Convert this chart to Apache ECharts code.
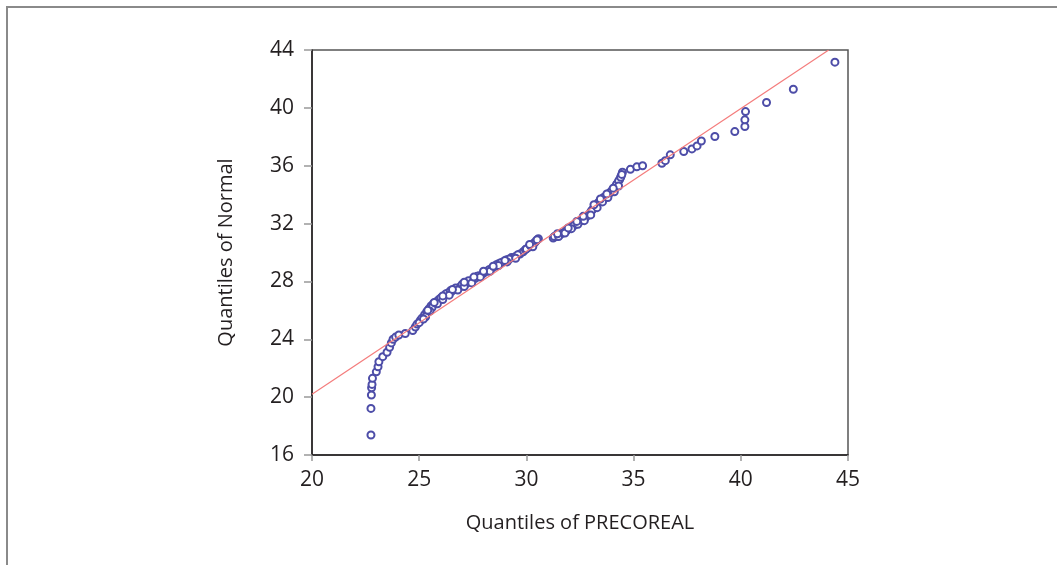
<!DOCTYPE html>
<html>
<head>
<meta charset="utf-8">
<script src="https://cdn.jsdelivr.net/npm/echarts@6/dist/echarts.min.js"></script>
<style>
  html, body { margin: 0; padding: 0; background: #fff; }
  #qq { width: 1057px; height: 565px; }
</style>
</head>
<body>
<div id="qq"></div>
<script type="text/javascript">
	// quantiles of PRECOREAL (x) vs quantiles of Normal (y)
	var precoreal = [
		22.75, 22.75, 22.77, 22.78, 22.80, 22.82, 23.00, 23.08, 23.12, 23.30,
		23.50, 23.62, 23.70, 23.78, 23.90, 24.05, 24.35, 24.70, 24.82, 24.90,
		25.05, 25.12, 25.25, 25.35, 25.45, 25.55, 25.65, 25.80, 25.92, 26.05,
		26.20, 26.35, 26.50, 26.62, 26.75, 26.90, 27.05, 27.20, 27.37, 27.50,
		27.62, 27.80, 27.98, 28.15, 28.38, 28.55, 28.70, 28.90, 29.08, 29.30,
		29.47, 29.70, 29.85, 29.95, 30.10, 30.25, 30.33, 30.45, 30.56,
		31.25, 31.40, 31.55, 31.70, 31.85, 32.00, 32.15, 32.30, 32.45, 32.60,
		32.75, 32.90, 33.00, 33.10, 33.20, 33.35, 33.50, 33.68, 33.85, 34.00,
		34.15, 34.25, 34.35, 34.42, 34.48, 34.85, 35.15, 35.42, 36.32, 36.48,
		36.71, 37.34, 37.72, 37.96, 38.16, 38.79, 39.72, 40.19, 40.19, 40.22,
		41.20, 42.45, 44.39,
		25.00, 25.30, 25.60, 25.75, 26.00, 26.25, 26.45, 26.70, 27.00, 27.30,
		27.70, 28.05, 28.25, 28.60, 28.80, 29.20, 29.60, 30.00, 30.20, 30.40,
		30.50, 31.30, 31.60, 31.90, 32.20, 32.50, 32.80, 33.05, 33.28, 33.60,
		33.90, 34.20, 34.30, 34.40, 34.45,
		25.20, 25.50, 25.85, 26.10, 26.40, 26.80, 27.10, 27.45, 27.85, 28.30,
		28.70, 29.10, 29.50, 30.30, 31.50, 31.80, 32.10, 32.40, 32.70, 33.00,
		33.30, 33.55, 33.80, 34.10, 34.30,
		25.40, 25.70, 26.10, 26.55, 27.10, 27.55, 28.00, 28.45, 29.00, 30.15,
		31.45, 31.95, 32.35, 32.65, 33.15, 33.45, 33.75, 34.05
	];
	var normalQ = [
		17.38, 19.22, 20.15, 20.65, 20.88, 21.30, 21.75, 22.10, 22.45, 22.80,
		23.10, 23.45, 23.75, 24.00, 24.15, 24.30, 24.40, 24.60, 24.85, 25.05,
		25.30, 25.45, 25.70, 25.90, 26.10, 26.30, 26.45, 26.60, 26.75, 26.90,
		27.05, 27.20, 27.30, 27.42, 27.50, 27.62, 27.75, 27.85, 27.98, 28.10,
		28.22, 28.40, 28.55, 28.70, 28.90, 29.05, 29.22, 29.35, 29.50, 29.65,
		29.70, 29.90, 30.05, 30.20, 30.35, 30.50, 30.62, 30.80, 30.95,
		31.00, 31.10, 31.20, 31.35, 31.50, 31.65, 31.80, 31.95, 32.10, 32.25,
		32.40, 32.60, 32.80, 33.00, 33.20, 33.45, 33.65, 33.85, 34.05, 34.30,
		34.55, 34.80, 35.05, 35.30, 35.55, 35.75, 35.92, 36.00, 36.17, 36.35,
		36.75, 36.98, 37.16, 37.37, 37.71, 38.02, 38.36, 38.71, 39.17, 39.74,
		40.37, 41.29, 43.16,
		25.15, 25.55, 26.20, 26.50, 26.85, 27.15, 27.35, 27.55, 27.80, 28.05,
		28.35, 28.65, 28.80, 29.15, 29.30, 29.55, 29.85, 30.25, 30.45, 30.70,
		30.88, 31.10, 31.30, 31.55, 31.85, 32.20, 32.50, 32.90, 33.30, 33.80,
		34.15, 34.70, 34.95, 35.20, 35.40,
		25.40, 25.95, 26.45, 26.75, 27.05, 27.40, 27.65, 27.90, 28.30, 28.70,
		29.10, 29.35, 29.60, 30.40, 31.10, 31.35, 31.65, 31.95, 32.20, 32.60,
		33.10, 33.50, 33.80, 34.20, 34.60,
		26.00, 26.55, 27.00, 27.45, 27.95, 28.30, 28.70, 29.05, 29.45, 30.55,
		31.30, 31.70, 32.15, 32.50, 33.30, 33.70, 34.05, 34.45
	];
	// reference line end points
	var refX = [20, 44.1];
	var refY = [20.2, 44];
	var xTicks = [20, 25, 30, 35, 40, 45];
	var yTicks = [16, 20, 24, 28, 32, 36, 40, 44];

	var points = [];
	for (var i = 0; i < precoreal.length; i++) {
		points.push([precoreal[i], normalQ[i]]);
	}
	var refLine = [];
	for (var j = 0; j < refX.length; j++) {
		refLine.push([refX[j], refY[j]]);
	}

	var fontName = "'Liberation Sans Narrow', 'Open Sans', sans-serif";
	var option = {
		animation : false,
		backgroundColor : '#fff',
		graphic : [ {
			type : 'polyline',
			silent : true,
			shape : { points : [ [7, 565], [7, 7], [1057, 7] ] },
			style : { stroke : '#8a8a8a', lineWidth : 2, fill : null }
		} ],
		grid : {
			left : 312,
			top : 50,
			right : 209,
			bottom : 110,
			show : true,
			borderColor : '#555',
			borderWidth : 1.5,
			backgroundColor : '#fff'
		},
		xAxis : {
			type : 'value',
			min : xTicks[0],
			max : xTicks[xTicks.length - 1],
			interval : 5,
			name : 'Quantiles of PRECOREAL',
			nameLocation : 'middle',
			nameGap : 58,
			nameTextStyle : { fontFamily : fontName, fontSize : 20, color : '#231f20' },
			axisLine : { show : true, lineStyle : { color : '#231f20', width : 1.5 } },
			axisTick : { show : true, inside : false, length : 6, lineStyle : { color : '#999', width : 1.5 } },
			axisLabel : { fontFamily : fontName, fontSize : 21, color : '#231f20', margin : 15 },
			splitLine : { show : false }
		},
		yAxis : {
			type : 'value',
			min : yTicks[0],
			max : yTicks[yTicks.length - 1],
			interval : 4,
			name : 'Quantiles of Normal',
			nameLocation : 'middle',
			nameGap : 76,
			nameTextStyle : { fontFamily : fontName, fontSize : 20, color : '#231f20' },
			axisLine : { show : true, lineStyle : { color : '#231f20', width : 1.5 } },
			axisTick : { show : true, inside : false, length : 8, lineStyle : { color : '#999', width : 1.5 } },
			axisLabel : { fontFamily : fontName, fontSize : 21, color : '#231f20', margin : 18 },
			splitLine : { show : false }
		},
		series : [ {
			name : 'ref',
			type : 'line',
			data : refLine,
			symbol : 'none',
			clip : true,
			lineStyle : { color : '#f47c7c', width : 1.2 },
			z : 3
		}, {
			name : 'PRECOREAL',
			type : 'scatter',
			data : points,
			symbol : 'emptyCircle',
			symbolSize : 7,
			itemStyle : { color : '#4d4da8', borderColor : '#4d4da8', borderWidth : 1.5, opacity : 1 },
			z : 2
		} ]
	};

	var chart = echarts.init(document.getElementById('qq'));
	chart.setOption(option);
</script>
</body>
</html>
